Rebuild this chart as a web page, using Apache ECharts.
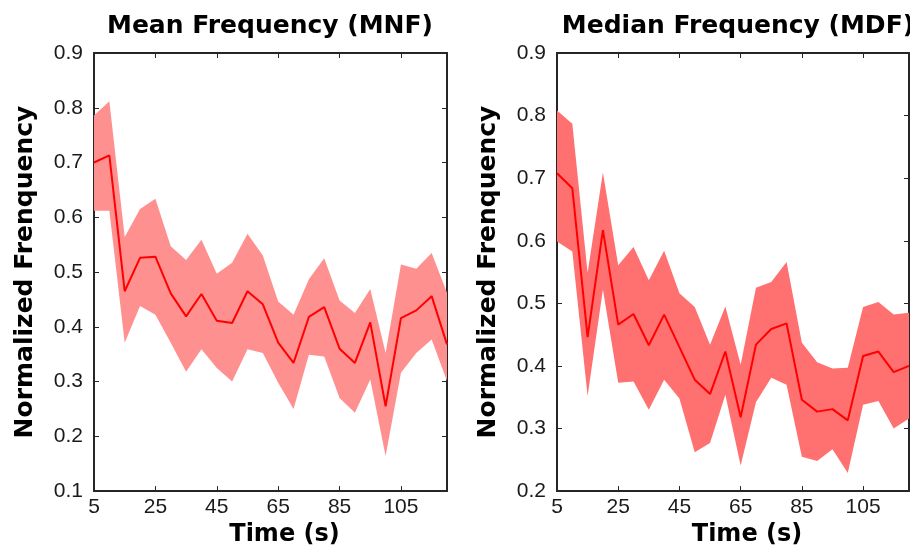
<!DOCTYPE html>
<html>
<head>
<meta charset="utf-8">
<script src="https://cdn.jsdelivr.net/npm/echarts@6/dist/echarts.min.js"></script>
<style>html,body{margin:0;padding:0;background:#fff}#c{width:910px;height:552px}</style>
</head>
<body>
<div id="c"></div>
<script>
// ---- data ----
const times = [5,10,15,20,25,30,35,40,45,50,55,60,65,70,75,80,85,90,95,100,105,110,115,120];
const mnfMean  = [0.700,0.713,0.465,0.526,0.528,0.461,0.419,0.460,0.411,0.407,0.465,0.441,0.371,0.334,0.418,0.436,0.360,0.334,0.408,0.255,0.416,0.430,0.456,0.368];
const mnfUpper = [0.786,0.812,0.564,0.615,0.634,0.547,0.522,0.559,0.497,0.517,0.570,0.530,0.446,0.422,0.487,0.525,0.448,0.425,0.469,0.352,0.514,0.506,0.535,0.462];
const mnfLower = [0.612,0.612,0.371,0.438,0.422,0.371,0.318,0.359,0.325,0.300,0.359,0.352,0.298,0.250,0.349,0.346,0.270,0.243,0.304,0.164,0.316,0.352,0.377,0.301];
const mdfMean  = [0.708,0.684,0.446,0.617,0.466,0.483,0.433,0.482,0.430,0.378,0.355,0.423,0.318,0.434,0.459,0.468,0.346,0.327,0.331,0.313,0.416,0.423,0.390,0.400];
const mdfUpper = [0.808,0.787,0.549,0.709,0.561,0.590,0.537,0.584,0.516,0.494,0.434,0.495,0.402,0.525,0.534,0.566,0.437,0.406,0.396,0.397,0.494,0.502,0.482,0.485];
const mdfLower = [0.599,0.583,0.352,0.522,0.373,0.375,0.330,0.378,0.348,0.262,0.277,0.354,0.241,0.342,0.381,0.370,0.255,0.248,0.267,0.229,0.338,0.344,0.300,0.316];
const xTickLabels = ['5','25','45','65','85','105'];
const titles = ['Mean Frequency (MNF)', 'Median Frequency (MDF)'];
const yName = 'Normalized Frenquency';
const xName = 'Time (s)';

// ---- chart ----
const chart = echarts.init(document.getElementById('c'), null, {renderer: 'canvas'});
const cats = times.map(String);
const isMajor = (i, v) => xTickLabels.indexOf(String(v)) >= 0;
const lineCol = '#262626';
const boldFont = 'DejaVu Sans';
const tickFont = 'Liberation Sans';

function xAxes(gi) {
  const base = {
    type: 'category', gridIndex: gi, data: cats, boundaryGap: false,
    axisLine: {show: true, lineStyle: {color: lineCol, width: 2}},
    axisTick: {show: true, inside: true, length: 5, interval: isMajor, lineStyle: {color: lineCol, width: 1}},
    splitLine: {show: false}
  };
  return [
    Object.assign({}, base, {
      position: 'bottom',
      axisLabel: {show: true, interval: isMajor, margin: 6, color: '#1a1a1a', fontSize: 21, fontFamily: tickFont},
      name: xName, nameLocation: 'middle', nameGap: 24,
      nameTextStyle: {fontSize: 24, fontWeight: 'bold', fontFamily: boldFont, color: '#000', padding: [0, 0, 0, 28]}
    }),
    Object.assign({}, base, {position: 'top', axisLabel: {show: false}})
  ];
}
function yAxes(gi, mn) {
  const base = {
    type: 'value', gridIndex: gi, min: mn, max: 0.9, interval: 0.1,
    axisLine: {show: true, lineStyle: {color: lineCol, width: 2}},
    axisTick: {show: true, inside: true, length: 5, lineStyle: {color: lineCol, width: 1}},
    splitLine: {show: false}
  };
  return [
    Object.assign({}, base, {
      position: 'left',
      axisLabel: {show: true, margin: 11, color: '#1a1a1a', fontSize: 21, fontFamily: tickFont, formatter: v => v.toFixed(1)},
      name: yName, nameLocation: 'middle', nameGap: 56, nameRotate: 90,
      nameTextStyle: {fontSize: 25, fontWeight: 'bold', fontFamily: boldFont, color: '#000'}
    }),
    Object.assign({}, base, {position: 'right', axisLabel: {show: false}})
  ];
}
function bandSeries(gi, mean, upper, lower, bandColor) {
  const ax = {xAxisIndex: gi * 2, yAxisIndex: gi * 2};
  const stack = 'band' + gi;
  return [
    Object.assign({type: 'line', data: lower, stack: stack, symbol: 'none', lineStyle: {opacity: 0}, silent: true}, ax),
    Object.assign({type: 'line', data: upper.map((u, i) => +(u - lower[i]).toFixed(4)), stack: stack, symbol: 'none',
      lineStyle: {opacity: 0}, areaStyle: {color: bandColor, opacity: 1}, silent: true}, ax),
    Object.assign({type: 'line', data: mean, symbol: 'none', lineStyle: {color: '#ff0000', width: 2}, z: 5}, ax)
  ];
}

const option = {
  animation: false,
  backgroundColor: '#fff',
  title: [
    {text: titles[0], left: 265, top: 9, textAlign: 'center',
     textStyle: {fontSize: 25, fontWeight: 'bold', fontFamily: boldFont, color: '#000'}},
    {text: titles[1], left: 733, top: 9, textAlign: 'center',
     textStyle: {fontSize: 25, fontWeight: 'bold', fontFamily: boldFont, color: '#000'}}
  ],
  grid: [
    {left: 94, top: 53, width: 353, height: 439},
    {left: 557, top: 53, width: 352, height: 439}
  ],
  xAxis: [...xAxes(0), ...xAxes(1)],
  yAxis: [...yAxes(0, 0.1), ...yAxes(1, 0.2)],
  series: [
    ...bandSeries(0, mnfMean, mnfUpper, mnfLower, '#ff9090'),
    ...bandSeries(1, mdfMean, mdfUpper, mdfLower, '#ff7070')
  ]
};
// fix axis indices for series (grid 1 uses xAxis 2, yAxis 2)
chart.setOption(option);
</script>
</body>
</html>
